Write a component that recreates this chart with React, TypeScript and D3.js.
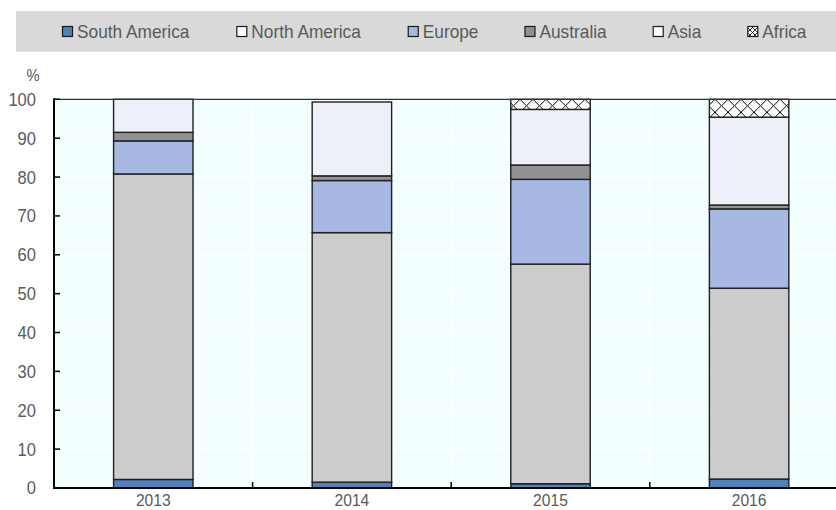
import React from 'react';
import * as d3 from 'd3';

const years = ['2013', '2014', '2015', '2016'];
const seriesNames = ['South America', 'North America', 'Europe', 'Australia', 'Asia', 'Africa'];
const southAmerica = [2.2, 1.5, 1.1, 2.3];
const northAmerica = [78.6, 64.2, 56.5, 49.1];
const europe = [8.5, 13.4, 21.8, 20.4];
const australia = [2.2, 1.2, 3.7, 1.0];
const asia = [8.5, 19.0, 14.3, 22.6];
const africa = [0, 0, 2.6, 4.6];
const yTicks = [0, 10, 20, 30, 40, 50, 60, 70, 80, 90, 100];

const seriesValues = [southAmerica, northAmerica, europe, australia, asia, africa];
const colors = ['#4f81bd', '#cccccc', '#a7b8e2', '#929292', '#edf0f8', 'url(#hatch)'];
const legendColors = ['#4f81bd', '#ffffff', '#a7b8e2', '#929292', '#ffffff', 'url(#hatchSmall)'];

const W = 836;
const H = 510;
const FONT = '"Liberation Sans", Arial, sans-serif';
const TEXT = '#595959';
const SX = 0.92;

function measure(text: string, size: number) {
  const c = document.createElement('canvas');
  const ctx = c.getContext('2d')!;
  ctx.font = `${size}px "Liberation Sans", Arial, sans-serif`;
  return ctx.measureText(text).width * SX;
}

function CText(props: { x: number; y: number; size: number; anchor?: string; dy?: string; children: any }) {
  const { x, y, size, anchor, dy, children } = props;
  return (
    <text
      transform={`translate(${x},${y}) scale(${SX},1)`}
      dy={dy}
      textAnchor={anchor || 'start'}
      fontSize={size}
      fill={TEXT}
    >
      {children}
    </text>
  );
}

export default function App() {
  const left = 54;
  const top = 99.3;
  const bottom = 488;
  const x = d3.scaleBand<string>().domain(years).range([left, 848.4]).paddingInner(0.6).paddingOuter(0.3);
  const y = d3.scaleLinear().domain([0, 100]).range([bottom, top]);
  const table = years.map((yr, i) => {
    const row: any = { year: yr };
    seriesNames.forEach((s, j) => (row[s] = seriesValues[j][i]));
    return row;
  });
  const stacked = d3.stack<any>().keys(seriesNames)(table);
  const step = x.step();
  const boundaries = years.map((yr) => (x(yr)! - step * 0.3) + step).slice(0, 3);

  // legend layout
  const legendFont = 18.8;
  let lx = 62;
  const legendItems = seriesNames.map((name, i) => {
    const item = { name, x: lx, color: legendColors[i] };
    lx += 15 + measure(name, legendFont) + 46;
    return item;
  });

  return (
    <svg width={W} height={H} style={{ position: 'absolute', left: 0, top: 0, fontFamily: FONT }}>
      <defs>
        <pattern id="hatch" patternUnits="userSpaceOnUse" width={13} height={13} x={0} y={top}>
          <rect width={13} height={13} fill="#ffffff" />
          <path d="M0,0 L13,13 M13,0 L0,13" stroke="#000" strokeWidth={1} />
        </pattern>
        <pattern id="hatchSmall" patternUnits="userSpaceOnUse" width={5} height={5}>
          <rect width={5} height={5} fill="#ffffff" />
          <path d="M0,0 L5,5 M5,0 L0,5" stroke="#000" strokeWidth={0.8} />
        </pattern>
      </defs>
      <rect x={0} y={0} width={W} height={H} fill="#ffffff" />
      {/* legend band */}
      <rect x={16} y={11} width={W - 16} height={40.7} fill="#d9d9d9" />
      {legendItems.map((it) => (
        <g key={it.name}>
          <rect x={it.x + 0.5} y={26.5} width={10} height={10} fill={it.color} stroke="#1a1a1a" strokeWidth={1.2} />
          <CText x={it.x + 15} y={38.3} size={legendFont}>
            {it.name}
          </CText>
        </g>
      ))}
      {/* plot background */}
      <rect x={left} y={top} width={W - left} height={bottom - top} fill="#f3ffff" />
      {yTicks.map((t) => (
        <line key={'g' + t} x1={left} x2={W} y1={y(t)} y2={y(t)} stroke="#ffffff" strokeWidth={1.5} />
      ))}
      {boundaries.map((b, i) => (
        <line key={'v' + i} x1={b} x2={b} y1={top} y2={bottom} stroke="#ffffff" strokeWidth={1.5} />
      ))}
      {/* bars */}
      {stacked.map((layer, li) => (
        <g key={layer.key}>
          {layer.map((d, i) => {
            const h = y(d[0]) - y(d[1]);
            if (h <= 0) return null;
            return (
              <rect
                key={i}
                x={x(years[i])!}
                y={y(d[1])}
                width={x.bandwidth()}
                height={h}
                fill={colors[li]}
                stroke="#1f1f1f"
                strokeWidth={1.4}
              />
            );
          })}
        </g>
      ))}
      {/* frame top */}
      <line x1={left} x2={W} y1={top} y2={top} stroke="#333333" strokeWidth={1.3} />
      {/* y axis */}
      <line x1={left} x2={left} y1={top - 1} y2={bottom + 1} stroke="#000" strokeWidth={2} />
      {yTicks.map((t) => (
        <g key={'t' + t}>
          <line x1={left} x2={left + 6} y1={y(t)} y2={y(t)} stroke="#000" strokeWidth={1.5} />
          <CText x={36} y={y(t)} dy="0.36em" anchor="end" size={18}>
            {t}
          </CText>
        </g>
      ))}
      <CText x={33} y={81} anchor="middle" size={16}>%</CText>
      {/* x axis */}
      <line x1={left - 1} x2={W} y1={bottom} y2={bottom} stroke="#000" strokeWidth={2} />
      {boundaries.map((b, i) => (
        <line key={'xt' + i} x1={b} x2={b} y1={bottom - 6} y2={bottom} stroke="#000" strokeWidth={1.5} />
      ))}
      {years.map((yr) => (
        <CText key={yr} x={x(yr)! + x.bandwidth() / 2} y={505.5} anchor="middle" size={17}>
          {yr}
        </CText>
      ))}
    </svg>
  );
}
